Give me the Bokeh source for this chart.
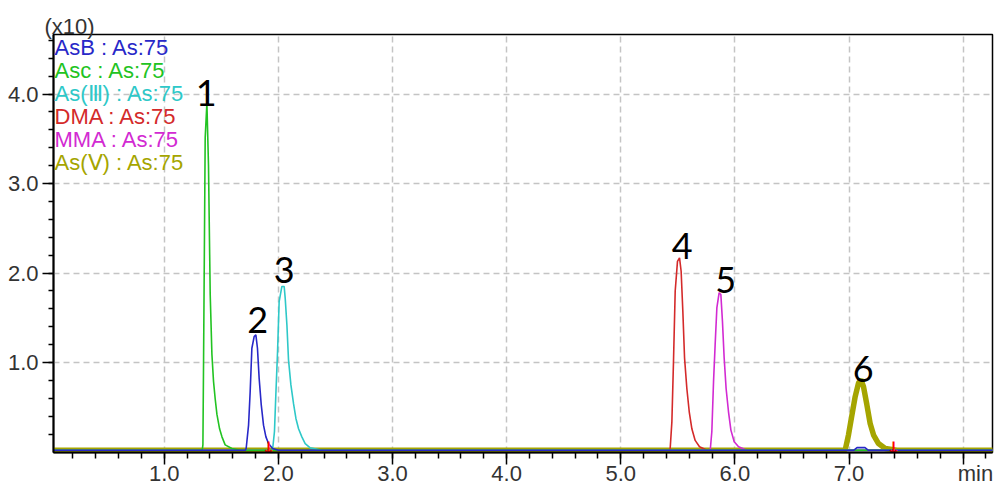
from bokeh.plotting import figure
from bokeh.models import Range1d, FixedTicker, PrintfTickFormatter, Label, ColumnDataSource
from bokeh.core.properties import value
from bokeh.embed import file_html
from bokeh.resources import INLINE

# ---- data (time in min, intensity in x10) ----
asb_t = [0.03, 1.710, 1.718, 1.739, 1.753, 1.768, 1.788, 1.803, 1.817, 1.832, 1.850, 1.870, 1.891, 1.914, 1.949, 2.001, 7.04, 7.07, 7.14, 7.17, 8.26]
asb_v = [0.02, 0.02, 0.04, 0.30, 0.67, 1.16, 1.29, 1.31, 1.16, 0.82, 0.53, 0.30, 0.17, 0.095, 0.04, 0.02, 0.02, 0.05, 0.05, 0.02, 0.02]

asc_t = [0.03, 1.333, 1.339, 1.345, 1.359, 1.374, 1.388, 1.403, 1.418, 1.432, 1.447, 1.462, 1.485, 1.506, 1.534, 1.593, 1.666, 8.26]
asc_v = [0.02, 0.02, 0.08, 1.05, 3.51, 3.90, 3.20, 1.76, 1.09, 0.79, 0.59, 0.42, 0.26, 0.17, 0.08, 0.04, 0.02, 0.02]

as3_t = [0.03, 1.949, 1.966, 1.978, 1.993, 2.007, 2.031, 2.051, 2.060, 2.075, 2.089, 2.110, 2.133, 2.154, 2.177, 2.206, 2.235, 2.279, 2.382, 8.26]
as3_v = [0.02, 0.02, 0.23, 0.64, 1.12, 1.68, 1.85, 1.85, 1.72, 1.42, 1.03, 0.75, 0.54, 0.375, 0.26, 0.17, 0.095, 0.047, 0.02, 0.02]

dma_t = [0.03, 5.427, 5.433, 5.448, 5.462, 5.477, 5.497, 5.515, 5.529, 5.544, 5.559, 5.579, 5.600, 5.623, 5.652, 5.690, 5.755, 8.26]
dma_v = [0.02, 0.02, 0.04, 0.34, 1.01, 1.80, 2.13, 2.17, 2.02, 1.57, 1.05, 0.71, 0.45, 0.26, 0.13, 0.06, 0.02, 0.02]

mma_t = [0.03, 5.784, 5.798, 5.813, 5.827, 5.842, 5.862, 5.877, 5.891, 5.906, 5.923, 5.944, 5.965, 5.994, 6.032, 6.105, 8.26]
mma_v = [0.02, 0.02, 0.23, 0.79, 1.20, 1.61, 1.78, 1.76, 1.46, 1.05, 0.71, 0.45, 0.245, 0.115, 0.06, 0.02, 0.02]

as5_t = [0.03, 6.966, 6.995, 7.025, 7.054, 7.083, 7.104, 7.127, 7.156, 7.185, 7.215, 7.258, 7.317, 7.419, 8.26]
as5_v = [0.02, 0.02, 0.19, 0.41, 0.62, 0.77, 0.81, 0.73, 0.53, 0.32, 0.19, 0.095, 0.04, 0.02, 0.02]

series_names = ["AsB : As:75", "Asc : As:75", "As(\u2162) : As:75", "DMA : As:75", "MMA : As:75", "As(\u2164) : As:75"]
series_colors = ["#2828c8", "#22c322", "#2ec8c8", "#d42a2a", "#d22ad2", "#a5a500"]

# peak numbers: centre of each label
peak_labels = ["1", "2", "3", "4", "5", "6"]
peak_label_t = [1.368, 1.819, 2.051, 5.538, 5.919, 7.124]
peak_label_v = [4.01, 1.476, 2.036, 2.300, 1.924, 0.927]

marker_t = [1.914, 7.39]
marker_v = [0.05, 0.05]

x_major = [1, 2, 3, 4, 5, 6, 7, 8]
x_minor = [round(0.2 * k, 1) for k in range(1, 42)]
y_major = [1, 2, 3, 4]
y_minor = [round(0.2 * k, 1) for k in range(1, 24)]

X0, X1 = 0.03, 8.257
Y0, Y1 = -0.005, 4.665

p = figure(width=994, height=488, output_backend="svg", toolbar_location=None,
           x_range=Range1d(X0, X1), y_range=Range1d(Y0, Y1),
           min_border_left=53, min_border_right=2, min_border_top=34, min_border_bottom=10)
p.background_fill_color = "white"
p.border_fill_color = "white"
p.outline_line_color = "black"
p.outline_line_width = 1.5

tick_font = "Liberation Sans"

p.title.text = "(x10)"
p.title.align = "left"
p.title.offset = -9
p.title.standoff = -8
p.title.text_font = tick_font
p.title.text_font_size = "22px"
p.title.text_font_style = "normal"
p.title.text_color = "#333333"

for ax, maj, mnr in ((p.xaxis[0], x_major, x_minor), (p.yaxis[0], y_major, y_minor)):
    ax.ticker = FixedTicker(ticks=maj, minor_ticks=mnr)
    ax.formatter = PrintfTickFormatter(format="%.1f")
    ax.axis_line_color = "black"
    ax.axis_line_width = 2
    ax.major_tick_line_color = "black"
    ax.major_tick_line_width = 1.5
    ax.minor_tick_line_color = "black"
    ax.minor_tick_line_width = 1.5
    ax.major_tick_in = 0
    ax.minor_tick_in = 0
    ax.major_label_text_font = tick_font
    ax.major_label_text_font_size = "22px"
    ax.major_label_text_color = "#333333"
p.xaxis[0].major_tick_out = 12
p.xaxis[0].minor_tick_out = 6
p.xaxis[0].major_label_standoff = -4
p.yaxis[0].major_tick_out = 11
p.yaxis[0].minor_tick_out = 5
p.yaxis[0].major_label_standoff = 4
p.xaxis[0].major_label_overrides = {8: "\u2007\u2007min"}

for g in (p.xgrid[0], p.ygrid[0]):
    g.grid_line_color = "#c4c4c4"
    g.grid_line_width = 1.5
    g.grid_line_dash = "6 4"
p.xgrid[0].ticker = FixedTicker(ticks=x_major)
p.ygrid[0].ticker = FixedTicker(ticks=y_major)

# draw order: As(V) underneath, AsB on top
series = [(as5_t, as5_v, 5), (mma_t, mma_v, 4), (dma_t, dma_v, 3), (as3_t, as3_v, 2), (asc_t, asc_v, 1), (asb_t, asb_v, 0)]
for t, v, idx in series:
    p.line(t, v, line_color=series_colors[idx], line_width=5.5 if idx == 5 else 1.6)

p.text(x=marker_t, y=marker_v, text=["\u2193"] * len(marker_t), text_color="#ff0000",
       text_font=value("DejaVu Sans"), text_font_size="17px", text_font_style="bold",
       text_align="center", text_baseline="middle")

lab_src = ColumnDataSource(dict(t=peak_label_t, v=peak_label_v, s=peak_labels))
p.text(x="t", y="v", text="s", source=lab_src, text_color="black",
       text_font=value("Lato"), text_font_size="36px",
       text_align="center", text_baseline="middle")

for i, (name, col) in enumerate(zip(series_names, series_colors)):
    p.add_layout(Label(x=X0, y=Y1, x_offset=1, y_offset=-(12.7 + 23 * i), text=name,
                       text_color=col, text_font=tick_font, text_font_size="22px",
                       text_baseline="middle", text_align="left"))

open("out.html", "w").write(file_html(p, INLINE))
